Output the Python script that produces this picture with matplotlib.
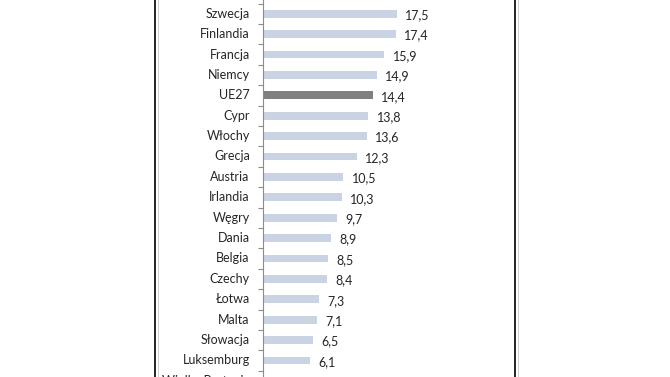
import matplotlib
matplotlib.use("Agg")
import matplotlib.pyplot as plt
from matplotlib.lines import Line2D

plt.rcParams["font.family"] = ["Lato", "DejaVu Sans"]

countries = ["Szwecja", "Finlandia", "Francja", "Niemcy", "UE27", "Cypr", "Włochy",
             "Grecja", "Austria", "Irlandia", "Węgry", "Dania", "Belgia", "Czechy",
             "Łotwa", "Malta", "Słowacja", "Luksemburg", "Wielka Brytania"]
values = [17.5, 17.4, 15.9, 14.9, 14.4, 13.8, 13.6, 12.3, 10.5, 10.3, 9.7, 8.9,
          8.5, 8.4, 7.3, 7.1, 6.5, 6.1, 6.0]
highlight = "UE27"

W, H = 670, 377
fig = plt.figure(figsize=(W / 100, H / 100), dpi=100)
fig.patch.set_facecolor("white")

# axes from the category axis line to the right border of the frame
ax_left, ax_right = 263, 515
ax = fig.add_axes([ax_left / W, 0, (ax_right - ax_left) / W, 1])

pos = list(range(len(countries)))
colors = ["#808080" if c == highlight else "#c9d3e4" for c in countries]
ax.barh(pos, values, height=0.38, color=colors, edgecolor="none")

# category axis with ticks between rows
for s in ["top", "right", "bottom"]:
    ax.spines[s].set_visible(False)
ax.spines["left"].set_color("#8c8c8c")
ax.spines["left"].set_linewidth(0.8)
ax.set_xticks([])
ax.set_yticks([p - 0.5 for p in pos] + [len(pos) - 0.5])
ax.set_yticklabels([])
ax.tick_params(axis="y", length=3.5, width=0.8, color="#8c8c8c", direction="out")

# the picture is a slice of a taller chart: rows run off both edges
px_per_unit = 7.64
row_step = 20.4
first_center = 13.7
ax.set_xlim(0, (ax_right - ax_left) / px_per_unit)
ax.set_ylim((H - first_center) / row_step, -first_center / row_step)

for i, (c, v) in enumerate(zip(countries, values)):
    ax.annotate(c, xy=(0, i), xycoords=("axes fraction", "data"),
                xytext=(-9.5, 0), textcoords="offset points",
                ha="right", va="center", fontsize=9, color="#262626",
                annotation_clip=False)
    ax.annotate(f"{v:.1f}".replace(".", ","), xy=(v, i),
                xytext=(6, -1), textcoords="offset points",
                ha="left", va="center", fontsize=9, color="#262626",
                annotation_clip=False)

# outer frame of the original chart
for x in (155, 515):
    fig.add_artist(Line2D([x / W, x / W], [0, 1], color="#222222", linewidth=1.4,
                          transform=fig.transFigure))
    fig.add_artist(Line2D([(x + 2.5) / W, (x + 2.5) / W], [0, 1], color="#d0d0d0",
                          linewidth=0.7, transform=fig.transFigure))

fig.savefig("out.png", dpi=100, facecolor="white")
